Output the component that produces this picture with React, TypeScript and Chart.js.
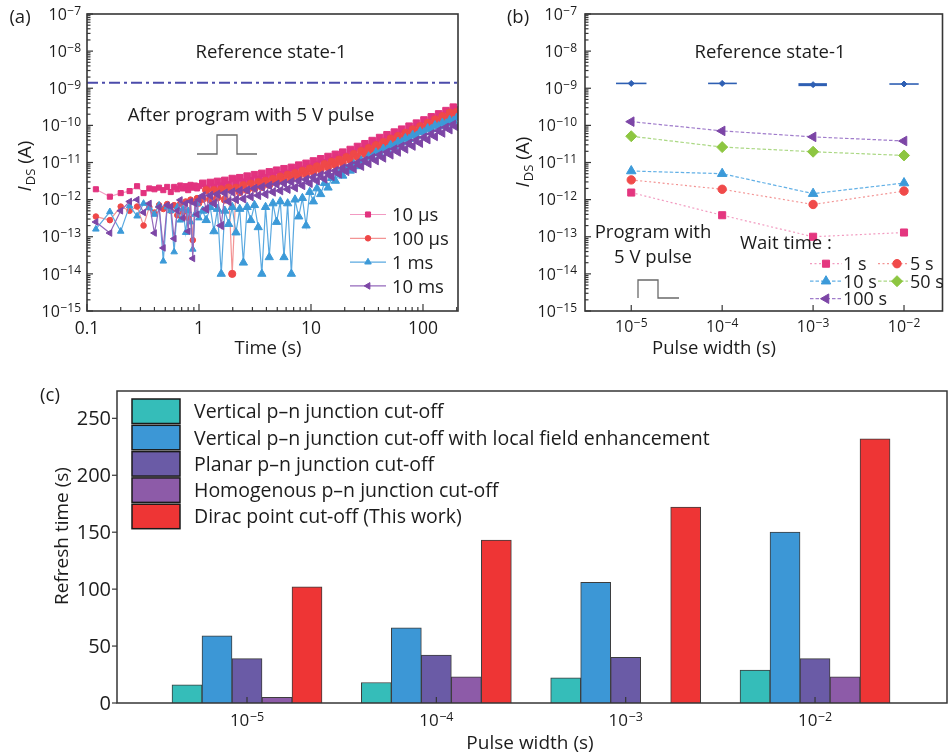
import React, { useEffect, useRef } from 'react';
import { Chart, registerables } from 'chart.js';
import { drawPoint } from 'chart.js/helpers';

Chart.register(...registerables);

const FONT = '"Open Sans", "Noto Sans", "DejaVu Sans", sans-serif';
const INK = '#1c1c1c';
const AXIS = '#363636';

// ================= Panel (a): I_DS versus time after the program pulse =================
const timeA = [
  0.12, 0.16, 0.2, 0.24, 0.28, 0.32, 0.36, 0.4, 0.44, 0.48, 0.52, 0.56, 0.6, 0.64, 0.68, 0.72, 0.76, 0.8, 0.84, 0.88, 0.92, 0.96, 1.0,
  1.08, 1.16, 1.26, 1.36, 1.46, 1.58, 1.7, 1.84, 1.98, 2.14, 2.31, 2.49, 2.69, 2.9, 3.13, 3.38, 3.64, 3.93, 4.24, 4.57, 4.93, 5.32,
  5.74, 6.19, 6.68, 7.2, 7.77, 8.38, 9.04, 9.75, 10.5, 11.3, 12.2, 13.2, 14.2, 15.3, 16.5, 17.8, 19.2, 20.7, 22.4, 24.1, 26.0, 28.1,
  30.3, 32.7, 35.2, 38.0, 41.0, 44.2, 47.7, 51.4, 55.5, 59.8, 64.5, 69.6, 75.1, 81.0, 87.4, 94.3, 102, 110, 118.6, 128, 138, 149,
  160.5, 173, 186.5, 200,
];
const ids10us = [
  1.9e-12, 1.2e-12, 1.5e-12, 1.7e-12, 2.3e-12, 1.5e-12, 2.0e-12, 1.9e-12, 2.1e-12, 1.8e-12, 2.2e-12, 1.6e-12, 2.2e-12, 1.9e-12, 2.4e-12,
  2.0e-12, 2.3e-12, 1.8e-12, 2.5e-12, 2.1e-12, 2.4e-12, 2.0e-12, 2.3e-12,
  2.75e-12, 2.0e-12, 2.9e-12, 2.1e-12, 3.1e-12, 2.3e-12, 3.3e-12, 2.5e-12, 3.7e-12, 2.75e-12, 3.9e-12, 2.95e-12, 4.3e-12, 3.2e-12,
  4.7e-12, 3.5e-12, 5.1e-12, 3.9e-12, 5.6e-12, 4.3e-12, 6.2e-12, 4.7e-12, 6.8e-12, 5.1e-12, 7.4e-12, 5.75e-12, 8.5e-12, 6.5e-12,
  9.5e-12, 7.4e-12, 1.1e-11, 8.5e-12, 1.26e-11, 9.8e-12, 1.45e-11, 1.12e-11, 1.66e-11, 1.29e-11, 1.9e-11, 1.48e-11, 2.24e-11,
  1.78e-11, 2.7e-11, 2.14e-11, 3.2e-11, 2.6e-11, 3.9e-11, 3.1e-11, 4.7e-11, 3.7e-11, 5.6e-11, 4.4e-11, 6.6e-11, 5.2e-11, 7.9e-11,
  6.3e-11, 9.5e-11, 7.6e-11, 1.15e-10, 9.1e-11, 1.4e-10, 1.12e-10, 1.7e-10, 1.35e-10, 2.04e-10, 1.62e-10, 2.5e-10, 2.0e-10, 3.1e-10,
  2.6e-10,
];
const ids100us = [
  3.5e-13, 2.8e-13, 6.5e-13, 5.0e-13, 6.5e-13, 2.0e-13, 6.3e-13, 4.5e-13, 7.1e-13, 5.6e-13, 7.6e-13, 5.0e-13, 7.1e-13, 3.8e-13, 7.9e-13,
  4.5e-13, 8.9e-13, 3.2e-13, 1.0e-12, 8.1e-14, 8.9e-13, 1.1e-12, 7.9e-13,
  1.05e-12, 1.8e-12, 1.0e-12, 1.8e-12, 1.15e-12, 1.9e-12, 1.0e-12, 2.1e-12, 1.0e-14, 2.1e-12, 1.6e-12, 2.45e-12, 1.8e-12, 2.7e-12,
  2.0e-12, 2.95e-12, 2.2e-12, 3.2e-12, 2.5e-12, 3.6e-12, 2.9e-12, 4.2e-12, 3.2e-12, 4.7e-12, 3.6e-12, 5.2e-12, 4.2e-12, 6.0e-12,
  4.8e-12, 6.9e-12, 5.6e-12, 7.9e-12, 6.5e-12, 9.1e-12, 7.4e-12, 1.05e-11, 8.5e-12, 1.2e-11, 9.8e-12, 1.4e-11, 1.17e-11, 1.7e-11,
  1.4e-11, 2.04e-11, 1.7e-11, 2.45e-11, 2.04e-11, 2.95e-11, 2.45e-11, 3.55e-11, 2.95e-11, 4.4e-11, 3.6e-11, 5.2e-11, 4.4e-11, 6.3e-11,
  5.4e-11, 7.8e-11, 6.6e-11, 9.5e-11, 8.1e-11, 1.17e-10, 1.0e-10, 1.45e-10, 1.23e-10, 1.78e-10, 1.5e-10, 2.2e-10, 1.8e-10, 2.3e-10,
];
const ids1ms = [
  1.6e-13, 4.7e-13, 1.4e-13, 6.8e-13, 3.6e-13, 7.9e-13, 6.0e-13, 4.0e-13, 7.1e-13, 2.2e-14, 6.3e-13, 5.0e-13, 3.9e-14, 6.3e-13, 2.8e-13,
  5.6e-13, 1.3e-13, 5.0e-13, 2.5e-13, 4.6e-14, 4.0e-13, 7.9e-13, 3.2e-13,
  5.0e-13, 2.8e-13, 6.3e-13, 1.4e-13, 5.6e-13, 1.0e-14, 5.0e-13, 2.2e-13, 6.3e-13, 1.3e-13, 5.6e-13, 2.0e-14, 6.3e-13, 2.8e-13,
  7.1e-13, 1.8e-13, 1.0e-14, 6.3e-13, 2.8e-14, 7.9e-13, 2.5e-13, 8.9e-13, 2.8e-14, 7.9e-13, 1.0e-14, 1.0e-12, 3.5e-13, 1.1e-12,
  2.0e-13, 1.6e-12, 8.9e-13, 2.0e-12, 1.4e-12, 2.8e-12, 2.1e-12, 3.8e-12, 3.2e-12, 5.0e-12, 4.4e-12, 6.6e-12, 6.0e-12, 8.9e-12,
  7.9e-12, 1.12e-11, 1.05e-11, 1.45e-11, 1.38e-11, 1.86e-11, 1.74e-11, 2.34e-11, 2.2e-11, 2.95e-11, 2.75e-11, 3.6e-11, 3.5e-11,
  4.5e-11, 4.3e-11, 5.5e-11, 5.2e-11, 6.8e-11, 6.5e-11, 8.3e-11, 7.9e-11, 1.0e-10, 9.5e-11, 1.17e-10, 1.12e-10, 1.38e-10, 1.32e-10,
  1.6e-10,
];
const ids10ms = [
  2.5e-13, 1.26e-13, 5.0e-13, 8.9e-13, 1.0e-12, 4.5e-13, 7.9e-13, 1.26e-13, 6.3e-13, 5.0e-14, 7.1e-13, 6.5e-13, 8.9e-14, 5.0e-13, 9.8e-13,
  3.2e-13, 7.9e-13, 1.4e-13, 8.9e-13, 2.6e-14, 7.9e-13, 4.0e-13, 1.0e-12,
  1.26e-12, 5.6e-13, 1.3e-12, 7.9e-13, 1.4e-12, 2.0e-13, 1.5e-12, 8.9e-13, 1.6e-12, 1.0e-12, 1.74e-12, 1.05e-12, 1.8e-12, 1.2e-12,
  2.0e-12, 1.3e-12, 2.2e-12, 1.4e-12, 2.4e-12, 1.6e-12, 2.6e-12, 1.74e-12, 2.75e-12, 1.9e-12, 3.0e-12, 2.1e-12, 3.2e-12, 2.4e-12,
  3.5e-12, 2.75e-12, 4.0e-12, 3.2e-12, 4.6e-12, 3.6e-12, 5.2e-12, 4.2e-12, 6.0e-12, 4.9e-12, 7.1e-12, 5.75e-12, 8.3e-12, 6.8e-12,
  9.8e-12, 7.9e-12, 1.15e-11, 9.3e-12, 1.35e-11, 1.12e-11, 1.6e-11, 1.32e-11, 1.9e-11, 1.6e-11, 2.3e-11, 1.9e-11, 2.75e-11, 2.3e-11,
  3.3e-11, 2.75e-11, 4.0e-11, 3.3e-11, 4.8e-11, 4.1e-11, 5.9e-11, 5.0e-11, 7.2e-11, 6.2e-11, 8.9e-11, 7.6e-11, 1.07e-10, 8.9e-11,
];
const seriesLabelsA = ['10 µs', '100 µs', '1 ms', '10 ms'];
const referenceA = 1.4e-9;
const xMinA = 0.1;
const xMaxA = 205.4;
const xTickValuesA = [0.1, 1, 10, 100];
const xTickLabelsA = ['0.1', '1', '10', '100'];
const yTickExpAB = [-15, -14, -13, -12, -11, -10, -9, -8, -7];

// ================= Panel (b): I_DS versus pulse width for several wait times =================
const pulseWidthB = [1e-5, 1e-4, 1e-3, 1e-2];
const wait1s = [1.55e-12, 3.8e-13, 1.0e-13, 1.3e-13];
const wait5s = [3.4e-12, 1.9e-12, 7.4e-13, 1.7e-12];
const wait10s = [5.9e-12, 5.0e-12, 1.45e-12, 2.8e-12];
const wait50s = [5.1e-11, 2.6e-11, 1.95e-11, 1.55e-11];
const wait100s = [1.26e-10, 7.1e-11, 4.9e-11, 3.8e-11];
const waitLabelsB = ['1 s', '5 s', '10 s', '50 s', '100 s'];
const refStateB = [1.35e-9, 1.35e-9, 1.25e-9, 1.3e-9];
const refLowB = [6.8e-6, 7.0e-5, 6.9e-4, 6.9e-3];
const refHighB = [1.47e-5, 1.45e-4, 1.42e-3, 1.45e-2];

// ================= Panel (c): refresh time comparison =================
const pulseExpC = [-5, -4, -3, -2];
const refreshVertical = [16, 18, 22, 29];
const refreshVerticalField = [59, 66, 106, 150];
const refreshPlanar = [39, 42, 40, 39];
const refreshHomogenous = [5, 23, null, 23];
const refreshDirac = [102, 143, 172, 232];
const labelsC = [
  'Vertical p\u2013n junction cut-off',
  'Vertical p\u2013n junction cut-off with local field enhancement',
  'Planar p\u2013n junction cut-off',
  'Homogenous p\u2013n junction cut-off',
  'Dirac point cut-off (This work)',
];
const yTicksC = [0, 50, 100, 150, 200, 250];

// ================= drawing helpers =================
type Ctx = CanvasRenderingContext2D;

function text(ctx: Ctx, s: string, x: number, yc: number, size: number, align: CanvasTextAlign = 'center', style = '') {
  ctx.font = `${style} ${size}px ${FONT}`.trim();
  ctx.fillStyle = INK;
  ctx.textAlign = align;
  ctx.textBaseline = 'alphabetic';
  ctx.fillText(s, x, yc + 0.357 * size);
}

function vtext(ctx: Ctx, s: string, cx: number, cy: number, size: number) {
  ctx.save();
  ctx.translate(cx, cy);
  ctx.rotate(-Math.PI / 2);
  text(ctx, s, 0, 0, size);
  ctx.restore();
}

function pow10(ctx: Ctx, exp: number, x: number, yc: number, align: string, size: number, supSize: number) {
  const base = '10';
  const sup = (exp < 0 ? '\u2212' : '') + Math.abs(exp);
  ctx.font = `${size}px ${FONT}`;
  const wb = ctx.measureText(base).width;
  ctx.font = `${supSize}px ${FONT}`;
  const ws = ctx.measureText(sup).width;
  const gap = 0.5;
  const total = wb + gap + ws;
  const x0 = align === 'right' ? x - total : align === 'center' ? x - total / 2 : x;
  ctx.fillStyle = INK;
  ctx.textAlign = 'left';
  ctx.textBaseline = 'alphabetic';
  ctx.font = `${size}px ${FONT}`;
  ctx.fillText(base, x0, yc + 0.357 * size);
  ctx.font = `${supSize}px ${FONT}`;
  ctx.fillText(sup, x0 + wb + gap, yc + 0.5);
}

function seg(ctx: Ctx, x1: number, y1: number, x2: number, y2: number) {
  ctx.beginPath();
  ctx.moveTo(x1, y1);
  ctx.lineTo(x2, y2);
  ctx.stroke();
}

function frame(ctx: Ctx, a: any, w = 1.5) {
  ctx.strokeStyle = AXIS;
  ctx.lineWidth = w;
  ctx.setLineDash([]);
  ctx.strokeRect(a.left, a.top, a.right - a.left, a.bottom - a.top);
}

function logTicks(ctx: Ctx, scale: any, a: any, horizontal: boolean, major: number, minor: number) {
  const lo = Math.floor(Math.log10(scale.min) + 1e-9);
  const hi = Math.ceil(Math.log10(scale.max) - 1e-9);
  ctx.strokeStyle = AXIS;
  ctx.lineWidth = 1.2;
  ctx.setLineDash([]);
  for (let e = lo; e <= hi; e++) {
    for (let m = 1; m <= 9; m++) {
      if (m > 1 && minor <= 0) continue;
      const v = m * Math.pow(10, e);
      if (v < scale.min * 0.9999 || v > scale.max * 1.0001) continue;
      const p = scale.getPixelForValue(v);
      const len = m === 1 ? major : minor;
      if (horizontal) seg(ctx, p, a.bottom, p, a.bottom - len);
      else seg(ctx, a.left, p, a.left + len, p);
    }
  }
}

function pulseIcon(ctx: Ctx, pts: number[][]) {
  ctx.strokeStyle = '#6a6a6a';
  ctx.lineWidth = 1.3;
  ctx.setLineDash([]);
  ctx.beginPath();
  pts.forEach(([x, y], i) => (i ? ctx.lineTo(x, y) : ctx.moveTo(x, y)));
  ctx.stroke();
}

function idsLabel(ctx: Ctx, cx: number, cy: number, size: number) {
  ctx.save();
  ctx.translate(cx, cy);
  ctx.rotate(-Math.PI / 2);
  const fI = `italic ${size}px ${FONT}`;
  const fS = `${Math.round(size * 0.66)}px ${FONT}`;
  const fA = `${size}px ${FONT}`;
  ctx.font = fI;
  const wI = ctx.measureText('I').width;
  ctx.font = fS;
  const wS = ctx.measureText('DS').width;
  ctx.font = fA;
  const wA = ctx.measureText(' (A)').width;
  let x = -(wI + wS + wA + 1) / 2;
  const base = 0.357 * size;
  ctx.fillStyle = INK;
  ctx.textAlign = 'left';
  ctx.textBaseline = 'alphabetic';
  ctx.font = fI;
  ctx.fillText('I', x, base);
  x += wI + 1;
  ctx.font = fS;
  ctx.fillText('DS', x, base + size * 0.22);
  x += wS;
  ctx.font = fA;
  ctx.fillText(' (A)', x, base);
  ctx.restore();
}

function legendEntry(ctx: Ctx, ds: any, x1: number, x2: number, xm: number, xt: number, yc: number, size: number, label: string, radius?: number) {
  ctx.save();
  ctx.strokeStyle = ds.borderColor;
  ctx.lineWidth = ds.borderWidth ?? 1;
  ctx.setLineDash(ds.borderDash || []);
  seg(ctx, x1, yc, x2, yc);
  ctx.setLineDash([]);
  ctx.fillStyle = ds.pointBackgroundColor;
  ctx.strokeStyle = ds.pointBorderColor;
  ctx.lineWidth = 1;
  const r = radius ?? ds.pointRadius;
  drawPoint(ctx, { pointStyle: ds.pointStyle, rotation: ds.pointRotation || 0, radius: r, borderWidth: 1 } as any, xm, yc);
  text(ctx, label, xt, yc, size, 'left');
  ctx.restore();
}

// ================= Panel (a) chart =================
const legendRadiusA = [3.6, 2.8, 3.8, 3.8];

const decorA = {
  id: 'decorA',
  afterDraw(chart: any) {
    const { ctx, chartArea: a } = chart;
    const xs = chart.scales.x;
    const ys = chart.scales.y;
    ctx.save();
    frame(ctx, a, 1.6);
    logTicks(ctx, ys, a, false, 6, 3.5);
    logTicks(ctx, xs, a, true, 7, 4);
    yTickExpAB.forEach((e) => pow10(ctx, e, a.left - 6, ys.getPixelForValue(Math.pow(10, e)), 'right', 16, 12));
    xTickValuesA.forEach((v, i) => text(ctx, xTickLabelsA[i], xs.getPixelForValue(v), a.bottom + 17, 17.5));
    text(ctx, 'Time (s)', 268, 347, 18.5);
    idsLabel(ctx, 24, 166, 19);
    text(ctx, '(a)', 20, 16, 18.5);
    text(ctx, 'Reference state-1', 271, 51, 18.5);
    text(ctx, 'After program with 5 V pulse', 251, 114, 18.5);
    pulseIcon(ctx, [[197, 154], [217, 154], [217, 135], [237, 135], [237, 154], [257, 154]]);
    const ds = chart.data.datasets;
    for (let i = 0; i < 4; i++) legendEntry(ctx, ds[i], 350, 386, 368, 392, 214.5 + i * 23.8, 18.5, seriesLabelsA[i], legendRadiusA[i]);
    ctx.restore();
  },
};

function buildA(): any {
  const mk = (label: string, values: number[], color: string, line: string, style: string, r: number, rDense: number, rot: number, order: number) => ({
    label,
    data: timeA.map((t, i) => ({ x: t, y: values[i] })),
    showLine: true,
    borderColor: line,
    borderWidth: 1.2,
    backgroundColor: color,
    pointBackgroundColor: color,
    pointBorderColor: color,
    pointBorderWidth: 1,
    pointStyle: style,
    pointRadius: (c: any) => (c.raw && c.raw.x > 1.04 ? rDense : r),
    pointRotation: rot,
    order,
  });
  return {
    type: 'scatter',
    data: {
      datasets: [
        mk(seriesLabelsA[0], ids10us, '#e2337f', '#f29ac2', 'rect', 3.6, 4.6, 0, 3),
        mk(seriesLabelsA[1], ids100us, '#ef4848', '#f39494', 'circle', 2.8, 3.6, 0, 2),
        mk(seriesLabelsA[2], ids1ms, '#3c9ad8', '#5aa9e0', 'triangle', 3.8, 4.8, 0, 1),
        mk(seriesLabelsA[3], ids10ms, '#7d46a6', '#9468bb', 'triangle', 3.8, 4.8, -90, 0),
        {
          label: 'Reference state-1',
          data: [{ x: xMinA, y: referenceA }, { x: xMaxA, y: referenceA }],
          showLine: true,
          borderColor: '#4b4bab',
          borderWidth: 2,
          borderDash: [11, 4, 3, 4],
          pointRadius: 0,
          order: 5,
        },
      ],
    },
    options: {
      responsive: false,
      animation: false,
      layout: { padding: { left: 0, top: 14, right: 22, bottom: 0 } },
      plugins: { legend: { display: false }, tooltip: { enabled: false } },
      scales: {
        x: {
          type: 'logarithmic', min: xMinA, max: xMaxA,
          ticks: { display: false }, grid: { display: false }, border: { display: false },
          afterFit: (s: any) => { s.height = 49; },
        },
        y: {
          type: 'logarithmic', min: 1e-15, max: 1e-7,
          ticks: { display: false }, grid: { display: false }, border: { display: false },
          afterFit: (s: any) => { s.width = 87; },
        },
      },
    },
    plugins: [decorA],
  };
}

// ================= Panel (b) chart =================
const decorB = {
  id: 'decorB',
  beforeDatasetsDraw(chart: any) {
    const { ctx } = chart;
    const xs = chart.scales.x;
    const ys = chart.scales.y;
    ctx.save();
    ctx.strokeStyle = '#2e5fb3';
    refStateB.forEach((v, i) => {
      ctx.lineWidth = i === 2 ? 3 : 1.6;
      const y = ys.getPixelForValue(v);
      seg(ctx, xs.getPixelForValue(refLowB[i]), y, xs.getPixelForValue(refHighB[i]), y);
    });
    ctx.restore();
  },
  afterDraw(chart: any) {
    const { ctx, chartArea: a } = chart;
    const xs = chart.scales.x;
    const ys = chart.scales.y;
    ctx.save();
    frame(ctx, a, 1.6);
    logTicks(ctx, ys, a, false, 6, 3.5);
    logTicks(ctx, xs, a, true, 6, 0);
    yTickExpAB.forEach((e) => pow10(ctx, e, a.left - 8, ys.getPixelForValue(Math.pow(10, e)), 'right', 16, 12));
    pulseWidthB.forEach((v) => pow10(ctx, Math.round(Math.log10(v)), xs.getPixelForValue(v), a.bottom + 15, 'center', 16, 12));
    text(ctx, 'Pulse width (s)', 234, 347, 18.5);
    idsLabel(ctx, 42, 162, 19);
    text(ctx, '(b)', 38, 16, 18.5);
    text(ctx, 'Reference state-1', 290, 51, 18.5);
    text(ctx, 'Program with', 173, 231, 18.5);
    text(ctx, '5 V pulse', 173, 256, 18.5);
    pulseIcon(ctx, [[158, 298], [158, 280], [178, 280], [178, 298], [199, 298]]);
    text(ctx, 'Wait time :', 260, 242.5, 18.5, 'left');
    const ds = chart.data.datasets;
    const cols = [[330, 362, 346, 363], [398, 428, 417, 430]];
    const rows = [263.7, 281.2, 298.7];
    for (let i = 0; i < 5; i++) {
      const c = cols[i % 2];
      const r = rows[Math.floor(i / 2)];
      legendEntry(ctx, ds[i], c[0], c[1], c[2], c[3], r, 18, waitLabelsB[i]);
    }
    ctx.restore();
  },
};

function buildB(): any {
  const mk = (label: string, values: number[], color: string, line: string, style: string, r: number, rot: number, dash: number[]) => ({
    label,
    data: pulseWidthB.map((x, i) => ({ x, y: values[i] })),
    showLine: true,
    borderColor: line,
    borderWidth: 1.2,
    borderDash: dash,
    backgroundColor: color,
    pointBackgroundColor: color,
    pointBorderColor: color,
    pointBorderWidth: 1,
    pointStyle: style,
    pointRadius: r,
    pointRotation: rot,
  });
  return {
    type: 'scatter',
    data: {
      datasets: [
        mk(waitLabelsB[0], wait1s, '#e4367f', '#f29bc0', 'rect', 5, 0, [2, 2.5]),
        mk(waitLabelsB[1], wait5s, '#f04a4a', '#f39494', 'circle', 4.2, 0, [2, 2.5]),
        mk(waitLabelsB[2], wait10s, '#3c9ad9', '#62b0e6', 'triangle', 5.5, 0, [3.5, 2]),
        mk(waitLabelsB[3], wait50s, '#8dc641', '#abd884', 'rectRot', 5.5, 0, [3.5, 2]),
        mk(waitLabelsB[4], wait100s, '#7c45a6', '#a07ccb', 'triangle', 5.5, -90, [3.5, 2]),
        {
          label: 'Reference state-1',
          data: pulseWidthB.map((x, i) => ({ x, y: refStateB[i] })),
          showLine: false,
          pointStyle: 'rectRot',
          pointRadius: 3,
          pointBackgroundColor: '#2e5fb3',
          pointBorderColor: '#2e5fb3',
        },
      ],
    },
    options: {
      responsive: false,
      animation: false,
      layout: { padding: { left: 0, top: 14, right: 1, bottom: 0 } },
      plugins: { legend: { display: false }, tooltip: { enabled: false } },
      scales: {
        x: {
          type: 'logarithmic', min: 3.1e-6, max: 2.65e-2,
          ticks: { display: false }, grid: { display: false }, border: { display: false },
          afterFit: (s: any) => { s.height = 49; },
        },
        y: {
          type: 'logarithmic', min: 1e-15, max: 1e-7,
          ticks: { display: false }, grid: { display: false }, border: { display: false },
          afterFit: (s: any) => { s.width = 105; },
        },
      },
    },
    plugins: [decorB],
  };
}

// ================= Panel (c) chart =================
const decorC = {
  id: 'decorC',
  afterDraw(chart: any) {
    const { ctx, chartArea: a } = chart;
    const xs = chart.scales.x;
    const ys = chart.scales.y;
    ctx.save();
    frame(ctx, a, 1.5);
    ctx.strokeStyle = AXIS;
    ctx.lineWidth = 1.2;
    yTicksC.forEach((v) => {
      const p = ys.getPixelForValue(v);
      seg(ctx, a.left - 5, p, a.left, p);
      text(ctx, String(v), a.left - 6, p, 20, 'right');
    });
    pulseExpC.forEach((e, i) => {
      const p = xs.getPixelForValue(i);
      ctx.strokeStyle = AXIS;
      ctx.lineWidth = 1.2;
      seg(ctx, p, a.bottom, p, a.bottom - 6);
      pow10(ctx, e, p, a.bottom + 17, 'center', 17, 12.5);
    });
    text(ctx, '(c)', 50, 34, 18.5);
    vtext(ctx, 'Refresh time (s)', 61, 176, 19);
    text(ctx, 'Pulse width (s)', 530, 382.5, 19);
    const ds = chart.data.datasets;
    for (let i = 0; i < ds.length; i++) {
      const top = 39 + i * 26.3;
      ctx.fillStyle = ds[i].backgroundColor;
      ctx.fillRect(132, top, 48, 24.5);
      ctx.strokeStyle = '#1a1a1a';
      ctx.lineWidth = 1.5;
      ctx.strokeRect(132, top, 48, 24.5);
      text(ctx, labelsC[i], 194, top + 12.3, 19.5, 'left');
    }
    ctx.restore();
  },
};

function buildC(): any {
  const series = [refreshVertical, refreshVerticalField, refreshPlanar, refreshHomogenous, refreshDirac];
  const colors = ['#35bdb9', '#3c97d6', '#6a5ba6', '#8d5ba8', '#ee3535'];
  return {
    type: 'bar',
    data: {
      datasets: series.map((vals, k) => ({
        label: labelsC[k],
        data: pulseExpC.map((_, i) => ({ x: i, y: vals[i] })),
        backgroundColor: colors[k],
        borderColor: '#3d3d3d',
        borderWidth: 1,
        barThickness: 30,
      })),
    },
    options: {
      responsive: false,
      animation: false,
      layout: { padding: { left: 0, top: 31, right: 2, bottom: 0 } },
      plugins: { legend: { display: false }, tooltip: { enabled: false } },
      scales: {
        x: {
          type: 'linear', min: -0.6866, max: 3.697, offset: false,
          ticks: { display: false }, grid: { display: false }, border: { display: false },
          afterBuildTicks: (s: any) => { s.ticks = pulseExpC.map((_, i) => ({ value: i })); },
          afterFit: (s: any) => { s.height = 53; },
        },
        y: {
          type: 'linear', min: 0, max: 274,
          ticks: { display: false }, grid: { display: false }, border: { display: false },
          afterFit: (s: any) => { s.width = 117; },
        },
      },
    },
    plugins: [decorC],
  };
}

// ================= components =================
function ChartCanvas({ left, top, width, height, build }: { left: number; top: number; width: number; height: number; build: () => any }) {
  const ref = useRef<HTMLCanvasElement>(null);
  useEffect(() => {
    const chart = new Chart(ref.current as HTMLCanvasElement, build());
    return () => chart.destroy();
  }, []);
  return (
    <canvas
      ref={ref}
      width={width}
      height={height}
      style={{ position: 'absolute', left, top, width, height, display: 'block' }}
    />
  );
}

export default function App() {
  return (
    <div style={{ position: 'absolute', left: 0, top: 0, width: 949, height: 756, background: '#ffffff', overflow: 'hidden' }}>
      <ChartCanvas left={0} top={0} width={480} height={360} build={buildA} />
      <ChartCanvas left={480} top={0} width={469} height={360} build={buildB} />
      <ChartCanvas left={0} top={360} width={949} height={396} build={buildC} />
    </div>
  );
}
